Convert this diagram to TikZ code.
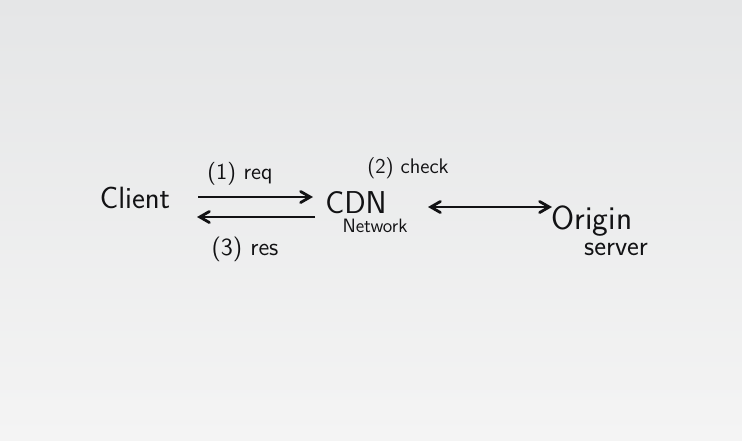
\documentclass[tikz,border=0pt]{standalone}
\usepackage{tikz}
\usetikzlibrary{arrows}
\definecolor{boardtop}{RGB}{229,230,231}
\definecolor{boardbot}{RGB}{244,244,244}
\definecolor{ink}{RGB}{18,18,20}
\tikzset{
    hand/.style={ink,inner sep=0pt,anchor=base,font=\sffamily\fontsize{#1}{#1}\selectfont},
    pen/.style={ink,line width=1.6pt,>=angle 60},
}
\begin{document}
\begin{tikzpicture}[x=0.02cm,y=-0.02cm]
    % Board
    \fill[top color=boardtop,bottom color=boardbot] (0,0) rectangle (742,440);
    \useasboundingbox (0,0) rectangle (742,440);
    % Nodes
    \node[hand=17.5] (client) at (135,208) {Client};
    \node[hand=18] (cdn) at (356,213) {CDN};
    \node[hand=11] (network) at (375,232) {Network};
    \node[hand=19] (origin) at (592,229) {Origin};
    \node[hand=16] (server) at (616,255) {server};
    % Labels
    \node[hand=13] (req) at (240,179) {(1) req};
    \node[hand=12] (check) at (408,173) {(2) check};
    \node[hand=14] (res) at (245,255) {(3) res};
    % Arrows
    \draw[pen,->] ([shift={(63,-11)}]client.base) to ([shift={(-43,-16)}]cdn.base);
    \draw[pen,->] ([shift={(-41,4)}]cdn.base) to ([shift={(62,9)}]client.base);
    \draw[pen,<->] ([shift={(72,-6)}]cdn.base) to ([shift={(-40,-22)}]origin.base);
\end{tikzpicture}
\end{document}
